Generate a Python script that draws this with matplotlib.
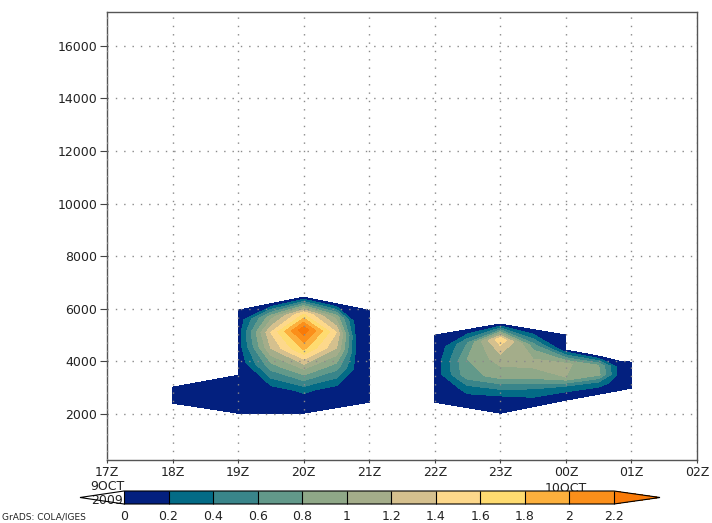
import numpy as np
import matplotlib
matplotlib.use('Agg')
import matplotlib.pyplot as plt
from matplotlib.colors import ListedColormap, BoundaryNorm
from matplotlib.cm import ScalarMappable

nan = np.nan

# contour levels and GrADS-like shading colours
levels = [0, 0.2, 0.4, 0.6, 0.8, 1.0, 1.2, 1.4, 1.6, 1.8, 2.0, 2.2]
band_colors = ['#03207f', '#036b86', '#39858a', '#62998a', '#8fa888', '#a4ad8a',
               '#d5c08e', '#fdd88b', '#fedb70', '#fcb03d', '#fb8f1a']
over_color = '#f97a07'

# time axis (hours after 00Z 9 Oct)
x_ticks = [17, 18, 19, 20, 21, 22, 23, 24, 25, 26]
x_labels = ['17Z', '18Z', '19Z', '20Z', '21Z', '22Z', '23Z', '00Z', '01Z', '02Z']
y_ticks = [2000, 4000, 6000, 8000, 10000, 12000, 14000, 16000]

# first block: 18Z - 21Z, node heights (m) per column, bottom to top
left_hours = [18, 18.5, 19, 19.5, 20, 20.5, 20.8, 21]
left_heights = [
    [2407, 3015, nan, nan, nan, nan, nan],
    [2217, 3243, nan, nan, nan, nan, nan],
    [2027, 3471, 4000, 4600, 5100, 5550, 5943],
    [2027, 3000, 3800, 4500, 5100, 5700, 6190],
    [2027, 2850, 3700, 4500, 5200, 5800, 6437],
    [2236, 3000, 3800, 4500, 5100, 5700, 6190],
    [2361, 3100, 3700, 4300, 4900, 5500, 6042],
    [2445, 3100, 3700, 4300, 4900, 5450, 5943],
]
left_values = [
    [0.0, 0.02, nan, nan, nan, nan, nan],
    [0.0, 0.03, nan, nan, nan, nan, nan],
    [0.0, 0.02, 0.05, 0.08, 0.08, 0.05, 0.0],
    [0.0, 0.15, 0.7, 1.2, 1.4, 0.9, 0.0],
    [0.0, 0.22, 1.0, 1.85, 2.35, 1.6, 0.0],
    [0.0, 0.15, 0.7, 1.2, 1.4, 0.9, 0.0],
    [0.0, 0.05, 0.12, 0.15, 0.15, 0.1, 0.0],
    [0.0, 0.0, 0.02, 0.03, 0.03, 0.02, 0.0],
]

# second block: 22Z - 01Z
right_hours = [22, 22.5, 23, 23.5, 24, 24.5, 24.8, 25]
right_heights = [
    [2445, 3000, 3500, 4000, 4500, 4999],
    [2236, 2900, 3500, 4100, 4700, 5208],
    [2027, 2750, 3400, 4100, 4850, 5417],
    [2274, 2900, 3500, 4000, 4600, 5208],
    [2521, 3000, 3400, 3900, 4428, 4999],
    [2749, 3150, 3500, 3850, 4199, nan],
    [2886, 3200, 3500, 3800, 4015, nan],
    [2977, 3250, 3500, 3750, 3969, nan],
]
right_values = [
    [0.0, 0.0, 0.05, 0.05, 0.0, 0.0],
    [0.0, 0.25, 0.75, 0.8, 0.6, 0.0],
    [0.0, 0.22, 0.85, 1.1, 1.55, 0.0],
    [0.0, 0.35, 0.95, 1.05, 0.7, 0.0],
    [0.0, 0.3, 1.0, 1.05, 0.05, 0.0],
    [0.0, 0.3, 0.85, 0.8, 0.0, nan],
    [0.0, 0.1, 0.15, 0.12, 0.0, nan],
    [0.0, 0.0, 0.0, 0.0, 0.0, nan],
]


def make_block(hours, heights, values):
    H = np.array(heights, float).T
    V = np.array(values, float).T
    # undefined nodes still need a coordinate: reuse the column's top height
    for j in range(H.shape[1]):
        col = H[:, j]
        col[np.isnan(col)] = col[~np.isnan(col)][-1]
    X = np.tile(np.array(hours, float), (H.shape[0], 1))
    return X, H, np.ma.masked_invalid(V)


cmap = ListedColormap(band_colors)
cmap.set_under('none')
cmap.set_over(over_color)
norm = BoundaryNorm(levels, cmap.N)

fig = plt.figure(figsize=(7.12, 5.23), dpi=100)
W, Hp = 712, 523
ax = fig.add_axes([107 / W, 1 - 460 / Hp, 590 / W, 448.3 / Hp])

for hrs, hts, vals in [(left_hours, left_heights, left_values),
                       (right_hours, right_heights, right_values)]:
    X, Y, Z = make_block(hrs, hts, vals)
    ax.contourf(X, Y, Z, levels=levels, cmap=cmap, norm=norm, extend='max',
                antialiased=False, corner_mask=False)

ax.set_xlim(17, 26)
ax.set_ylim(248, 17293)
ax.set_xticks(x_ticks)
ax.set_xticklabels(x_labels)
ax.set_yticks(y_ticks)
ax.set_yticklabels([str(v) for v in y_ticks])
ax.tick_params(axis='y', length=5, width=0.8, color='#444', labelsize=9, pad=2,
               labelcolor='#222')
ax.tick_params(axis='x', length=2, width=0.8, color='#444', labelsize=9, pad=2,
               labelcolor='#222')
ax.set_axisbelow(False)
ax.grid(True, color='#8a8a8a', linestyle=(0, (1, 5)), linewidth=1.0)
for s in ax.spines.values():
    s.set_color('#555')
    s.set_linewidth(1.0)

# date labels under the time axis (drawn under the colour bar)
tr = ax.get_xaxis_transform()
ax.text(17, -27 / 448.3, '9OCT', transform=tr, ha='center', va='center',
        fontsize=9, color='#222', clip_on=False)
ax.text(17, -41 / 448.3, '2009', transform=tr, ha='center', va='center',
        fontsize=9, color='#222', clip_on=False)
ax.text(24, -28 / 448.3, '10OCT', transform=tr, ha='center', va='center',
        fontsize=9, color='#222', clip_on=False)

# colour bar
cax = fig.add_axes([80 / W, 1 - 504 / Hp, 580 / W, 13 / Hp])
cax.patch.set_alpha(0)
cb = fig.colorbar(ScalarMappable(norm=norm, cmap=cmap), cax=cax,
                  orientation='horizontal', extend='both',
                  extendfrac=(44 / 490, 46 / 490), drawedges=True)
cb.set_ticks(levels)
cb.set_ticklabels([f'{v:g}' for v in levels])
cb.ax.tick_params(length=0, labelsize=9, pad=4, labelcolor='#222')
cb.outline.set_linewidth(0.8)
cb.outline.set_edgecolor('black')
cb.dividers.set_color('black')
cb.dividers.set_linewidth(0.8)

fig.text(2 / W, 1 - 517 / Hp, 'GrADS: COLA/IGES', fontsize=6.5, va='center',
         color='#222')

fig.savefig('out.png', dpi=100)
